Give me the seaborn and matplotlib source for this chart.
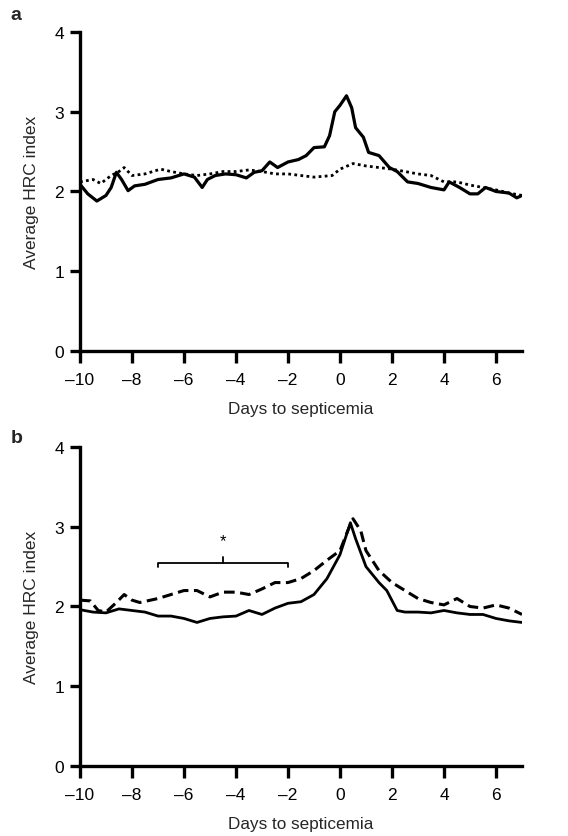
import matplotlib
matplotlib.use("Agg")
import matplotlib.pyplot as plt
import seaborn as sns
import pandas as pd

# Panel a
a_solid_x = [-10, -9.7, -9.35, -9.0, -8.8, -8.6, -8.4, -8.15, -7.9, -7.5, -7.0, -6.5, -6.0, -5.6, -5.3, -5.1,
             -4.8, -4.4, -4.0, -3.6, -3.3, -3.0, -2.7, -2.4, -2.0, -1.6, -1.3, -1.0, -0.6, -0.4, -0.2, 0.0,
             0.25, 0.45, 0.6, 0.9, 1.1, 1.5, 1.9, 2.2, 2.6, 3.0, 3.5, 4.0, 4.2, 4.6, 5.0, 5.3, 5.6, 6.0,
             6.5, 6.8, 7.0]
a_solid_y = [2.09, 1.97, 1.88, 1.95, 2.05, 2.24, 2.15, 2.01, 2.07, 2.09, 2.15, 2.17, 2.22, 2.18, 2.05, 2.15,
             2.2, 2.22, 2.21, 2.17, 2.24, 2.26, 2.37, 2.3, 2.37, 2.4, 2.45, 2.55, 2.56, 2.7, 3.0, 3.08,
             3.2, 3.05, 2.8, 2.68, 2.49, 2.45, 2.3, 2.25, 2.12, 2.1, 2.05, 2.02, 2.12, 2.05, 1.97, 1.97, 2.05, 2.0,
             1.98, 1.92, 1.95]
a_dot_x = [-10, -9.5, -9.2, -8.8, -8.5, -8.3, -8.0, -7.5, -6.9, -6.5, -6.0, -5.5, -5.0, -4.5, -4.0, -3.5,
           -3.0, -2.5, -2.0, -1.5, -1.0, -0.3, 0.0, 0.5, 1.0, 1.5, 2.0, 2.5, 3.0, 3.5, 4.0, 4.5, 5.0,
           5.5, 6.0, 6.5, 7.0]
a_dot_y = [2.12, 2.15, 2.1, 2.2, 2.25, 2.3, 2.2, 2.22, 2.28, 2.25, 2.22, 2.2, 2.22, 2.25, 2.25, 2.27,
           2.25, 2.22, 2.22, 2.2, 2.18, 2.2, 2.28, 2.35, 2.32, 2.3, 2.28, 2.25, 2.22, 2.2, 2.12, 2.12, 2.08,
           2.05, 2.02, 1.98, 1.95]

# Panel b
b_solid_x = [-10, -9.5, -9.0, -8.5, -8.0, -7.5, -7.0, -6.5, -6.0, -5.5, -5.0, -4.5, -4.0, -3.5, -3.0, -2.5,
             -2.0, -1.5, -1.0, -0.5, 0.0, 0.3, 0.4, 0.6, 1.0, 1.5, 1.8, 2.2, 2.5, 3.0, 3.5, 4.0, 4.5, 5.0,
             5.5, 6.0, 6.5, 7.0]
b_solid_y = [1.96, 1.93, 1.92, 1.97, 1.95, 1.93, 1.88, 1.88, 1.85, 1.8, 1.85, 1.87, 1.88, 1.95, 1.9, 1.98,
             2.04, 2.06, 2.15, 2.35, 2.65, 2.95, 3.05, 2.85, 2.5, 2.3, 2.2, 1.95, 1.93, 1.93, 1.92, 1.95, 1.92, 1.9,
             1.9, 1.85, 1.82, 1.8]
b_dash_x = [-10, -9.6, -9.3, -9.0, -8.6, -8.3, -8.0, -7.7, -7.0, -6.5, -6.0, -5.5, -5.0, -4.5, -4.0, -3.5,
            -3.0, -2.5, -2.0, -1.5, -1.0, -0.5, 0.0, 0.3, 0.5, 0.8, 1.0, 1.5, 2.0, 2.5, 3.0, 3.5, 4.0, 4.5,
            5.0, 5.5, 6.0, 6.5, 7.0]
b_dash_y = [2.08, 2.07, 1.95, 1.93, 2.05, 2.15, 2.08, 2.05, 2.1, 2.15, 2.2, 2.2, 2.12, 2.18, 2.18, 2.15,
            2.22, 2.3, 2.3, 2.35, 2.45, 2.58, 2.7, 2.95, 3.1, 2.95, 2.7, 2.45, 2.3, 2.2, 2.1, 2.05, 2.02, 2.1,
            2.0, 1.98, 2.02, 1.98, 1.9]

x_ticks = [-10, -8, -6, -4, -2, 0, 2, 4, 6]
x_ticklabels = ["\u201310", "\u20138", "\u20136", "\u20134", "\u20132", "0", "2", "4", "6"]
y_ticks = [0, 1, 2, 3, 4]

sns.set_theme(style="ticks")
plt.rcParams['font.family'] = ['Liberation Sans', 'DejaVu Sans']

fig = plt.figure(figsize=(5.68, 8.37), dpi=100)
ax_a = fig.add_axes([0.1408, 0.5795, 0.919 - 0.1408, 0.9606 - 0.5795])
ax_b = fig.add_axes([0.1408, 0.0836, 0.919 - 0.1408, 0.4648 - 0.0836])

sns.lineplot(x=a_solid_x, y=a_solid_y, ax=ax_a, color="black", linewidth=2.3, linestyle="-")
sns.lineplot(x=a_dot_x, y=a_dot_y, ax=ax_a, color="black", linewidth=2.0, linestyle=(0, (1.0, 1.2)))
sns.lineplot(x=b_solid_x, y=b_solid_y, ax=ax_b, color="black", linewidth=2.0, linestyle="-")
sns.lineplot(x=b_dash_x, y=b_dash_y, ax=ax_b, color="black", linewidth=2.2, linestyle=(0, (3.5, 1.8)))

for ax in (ax_a, ax_b):
    ax.set_xlim(-10, 7)
    ax.set_ylim(0, 4)
    ax.set_xticks(x_ticks)
    ax.set_xticklabels(x_ticklabels)
    ax.set_yticks(y_ticks)
    ax.set_xlabel("Days to septicemia", fontsize=12.3, labelpad=10)
    ax.set_ylabel("Average HRC index", fontsize=12.5, labelpad=11)
    for s in ("top", "right"):
        ax.spines[s].set_visible(False)
    for s in ("left", "bottom"):
        ax.spines[s].set_linewidth(2.4)
        ax.spines[s].set_color("black")
    ax.tick_params(axis="both", direction="out", width=2.4, labelsize=12.5, colors="black")
    ax.tick_params(axis="x", pad=6.5, length=8.5)
    ax.tick_params(axis="y", pad=4.5, length=7)
    ax.set_facecolor("white")

# significance bracket in panel b
bx0, bx1, bxm, by = -7, -2, -4.5, 2.55
ax_b.plot([bx0, bx0, bx1, bx1], [by - 0.06, by, by, by - 0.06], color="black", linewidth=1.3)
ax_b.plot([bxm, bxm], [by, by + 0.07], color="black", linewidth=1.3)
ax_b.text(bxm, by + 0.27, "*", ha="center", va="center", fontsize=12, color="black")

fig.text(0.018, 0.982, "a", fontsize=14, fontweight="bold", va="center", ha="left")
fig.text(0.018, 0.476, "b", fontsize=14, fontweight="bold", va="center", ha="left")

fig.savefig("out.png", dpi=100, facecolor="white")
